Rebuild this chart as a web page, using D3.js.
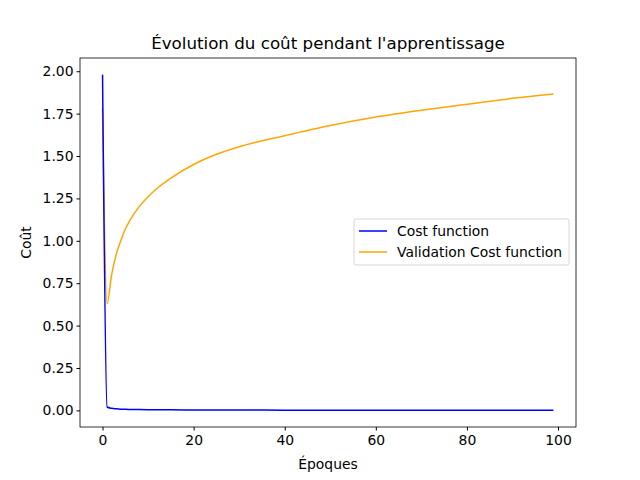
<!DOCTYPE html>
<html><head><meta charset="utf-8">
<script src="https://cdn.jsdelivr.net/npm/d3@7"></script>
<style>body{margin:0;background:#fff}text{font-family:"DejaVu Sans",sans-serif}</style>
</head><body>
<script>
const epochs = [0, 1, 2, 3, 4, 5, 6, 8, 10, 12, 15, 20, 25, 30, 40, 50, 60, 70, 80, 90, 99]
const cost = [1.98, 0.02, 0.012, 0.009, 0.007, 0.006, 0.0055, 0.005, 0.004, 0.0035, 0.003, 0.0025, 0.002, 0.002, 0.0015, 0.0013, 0.0012, 0.0011, 0.001, 0.001, 0.001]
const valCost = [1.78, 0.63, 0.80, 0.92, 1.00, 1.07, 1.12, 1.20, 1.26, 1.31, 1.37, 1.45, 1.51, 1.555, 1.62, 1.68, 1.73, 1.77, 1.805, 1.84, 1.865]
const xTicks = [0, 20, 40, 60, 80, 100]
const yTicks = [0, 0.25, 0.5, 0.75, 1, 1.25, 1.5, 1.75, 2]

const width = 640, height = 480
const m = { left: 80, right: 576, top: 58, bottom: 427 }
const fs = 13.9

const x = d3.scaleLinear().domain([-4.95, 103.95]).range([m.left, m.right])
const y = d3.scaleLinear().domain([-0.098, 2.078]).range([m.bottom, m.top])

const svg = d3.select('body').append('svg').attr('width', width).attr('height', height)

svg.append('g').attr('transform', `translate(0,${m.bottom})`)
  .call(d3.axisBottom(x).tickValues(xTicks).tickFormat(d3.format('d')).tickSizeOuter(0).tickSize(3.5))
  .call(g => g.select('.domain').remove())
  .call(g => g.selectAll('text').attr('font-size', fs).attr('fill', '#000').attr('dy', '0.85em'))

svg.append('g').attr('transform', `translate(${m.left},0)`)
  .call(d3.axisLeft(y).tickValues(yTicks).tickFormat(d3.format('.2f')).tickSizeOuter(0).tickSize(3.5))
  .call(g => g.select('.domain').remove())
  .call(g => g.selectAll('text').attr('font-size', fs).attr('fill', '#000'))

const line = d3.line().curve(d3.curveMonotoneX).x((d, i) => x(epochs[i])).y(d => y(d))
svg.append('path').datum(valCost).attr('d', line).attr('fill', 'none').attr('stroke', 'orange').attr('stroke-width', 1.5)
svg.append('path').datum(cost).attr('d', line).attr('fill', 'none').attr('stroke', 'blue').attr('stroke-width', 1.5)

svg.append('rect').attr('x', m.left).attr('y', m.top).attr('width', m.right - m.left).attr('height', m.bottom - m.top)
  .attr('fill', 'none').attr('stroke', '#000').attr('stroke-width', 0.8)

svg.append('text').attr('x', (m.left + m.right) / 2).attr('y', m.top - 9).attr('text-anchor', 'middle')
  .attr('font-size', 16.7).text("Évolution du coût pendant l'apprentissage")
svg.append('text').attr('x', (m.left + m.right) / 2).attr('y', 469).attr('text-anchor', 'middle')
  .attr('font-size', fs).text('Époques')
svg.append('text').attr('transform', `translate(31,${(m.top + m.bottom) / 2}) rotate(-90)`).attr('text-anchor', 'middle')
  .attr('font-size', fs).text('Coût')

const legend = svg.append('g').attr('transform', 'translate(354,219)')
legend.append('rect').attr('width', 215).attr('height', 46).attr('rx', 2).attr('fill', '#fff').attr('fill-opacity', 0.8)
  .attr('stroke', '#ccc').attr('stroke-width', 0.8)
const items = [['Cost function', 'blue'], ['Validation Cost function', 'orange']]
items.forEach(([label, color], i) => {
  const yy = 12 + i * 21
  legend.append('line').attr('x1', 5).attr('x2', 33).attr('y1', yy).attr('y2', yy).attr('stroke', color).attr('stroke-width', 1.5)
  legend.append('text').attr('x', 43).attr('y', yy + 5).attr('font-size', fs).text(label)
})
</script>
</body></html>
